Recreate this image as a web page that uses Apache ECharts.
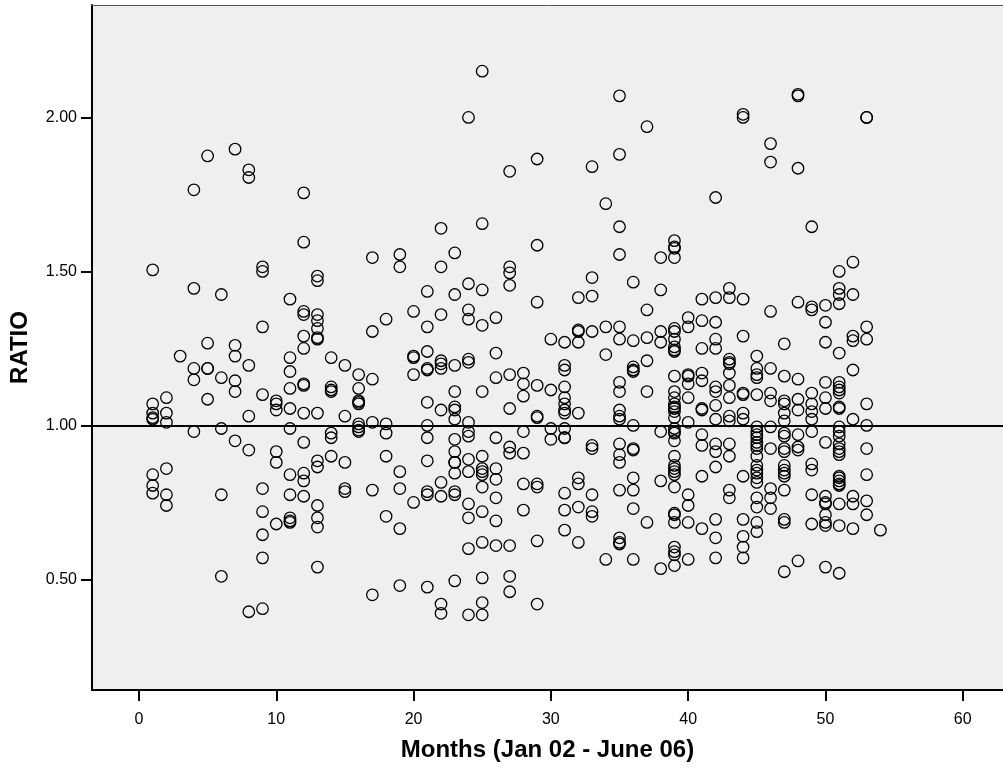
<!DOCTYPE html>
<html>
<head>
<meta charset="utf-8">
<style>html,body{margin:0;padding:0;background:#fff}#c{width:1003px;height:770px}</style>
<script src="https://cdn.jsdelivr.net/npm/echarts@6/dist/echarts.min.js"></script>
</head>
<body>
<div id="c"></div>
<script>
const xTicks = [0,10,20,30,40,50,60];
const yTicks = [0.5,1,1.5,2];
const months = [1,2,3,4,5,6,7,8,9,10,11,12,13,14,15,16,17,18,19,20,21,22,23,24,25,26,27,28,29,30,31,32,33,34,35,36,37,38,39,40,41,42,43,44,45,46,47,48,49,50,51,52,53,54];
const ratios = [
[1.505,1.07,1.04,1.025,1.02,0.84,0.805,0.78],
[1.09,1.04,1.01,0.86,0.775,0.74],
[1.225],
[1.765,1.445,1.185,1.148,0.98],
[1.875,1.267,1.185,1.185,1.085],
[1.425,1.155,0.99,0.775,0.51],
[1.897,1.26,1.225,1.145,1.11,0.95],
[1.83,1.805,1.195,1.03,0.92,0.395],
[1.515,1.50,1.32,1.10,0.795,0.72,0.645,0.57,0.405],
[1.08,1.07,1.05,0.915,0.88,0.68],
[1.41,1.22,1.175,1.12,1.055,0.99,0.84,0.775,0.70,0.685,0.69],
[1.755,1.595,1.37,1.36,1.29,1.25,1.135,1.13,1.04,0.945,0.845,0.82,0.77],
[1.485,1.47,1.36,1.34,1.315,1.285,1.28,1.04,0.885,0.865,0.74,0.70,0.67,0.54],
[1.22,1.125,1.115,1.11,0.975,0.96,0.90],
[1.195,1.03,0.88,0.795,0.785],
[1.165,1.12,1.08,1.075,1.07,1.005,0.995,0.985,0.98],
[1.545,1.305,1.15,1.01,0.79,0.45],
[1.345,1.005,0.975,0.90,0.705],
[1.555,1.515,0.85,0.795,0.665,0.48],
[1.37,1.225,1.22,1.165,0.75],
[1.435,1.32,1.24,1.185,1.18,1.075,1.0,0.96,0.885,0.785,0.775,0.475],
[1.64,1.515,1.36,1.21,1.20,1.185,1.05,0.815,0.77,0.42,0.39],
[1.56,1.425,1.195,1.11,1.06,1.05,1.02,0.955,0.915,0.88,0.88,0.845,0.785,0.775,0.495],
[2.0,1.46,1.375,1.345,1.215,1.205,1.01,0.98,0.965,0.89,0.85,0.745,0.70,0.60,0.385],
[2.15,1.655,1.44,1.325,1.11,0.90,0.86,0.85,0.84,0.80,0.72,0.62,0.505,0.425,0.385],
[1.35,1.235,1.155,0.96,0.86,0.825,0.765,0.69,0.61],
[1.825,1.515,1.495,1.455,1.165,1.055,0.93,0.91,0.61,0.51,0.46],
[1.17,1.135,1.095,0.98,0.91,0.81,0.725],
[1.865,1.585,1.40,1.13,1.03,1.025,0.81,0.80,0.625,0.42],
[1.28,1.115,0.99,0.955],
[1.27,1.195,1.18,1.125,1.09,1.07,1.05,1.04,0.99,0.96,0.96,0.78,0.725,0.66],
[1.415,1.31,1.305,1.27,1.04,0.83,0.81,0.735,0.62],
[1.84,1.48,1.42,1.305,0.935,0.925,0.775,0.72,0.705],
[1.72,1.32,1.23,0.565],
[2.07,1.88,1.645,1.555,1.32,1.28,1.14,1.11,1.05,1.03,1.02,0.94,0.905,0.88,0.79,0.635,0.62,0.615],
[1.465,1.275,1.19,1.18,1.175,1.0,0.925,0.92,0.83,0.79,0.73,0.565],
[1.97,1.375,1.285,1.21,1.11,0.685],
[1.545,1.44,1.305,1.27,0.98,0.82,0.535],
[1.60,1.58,1.575,1.545,1.315,1.305,1.28,1.255,1.245,1.24,1.16,1.11,1.09,1.07,1.06,1.055,1.045,1.025,0.99,0.98,0.975,0.95,0.90,0.87,0.86,0.85,0.84,0.80,0.715,0.71,0.685,0.605,0.59,0.58,0.545],
[1.35,1.32,1.165,1.16,1.135,1.09,1.01,0.775,0.74,0.685,0.565],
[1.41,1.34,1.25,1.17,1.145,1.055,1.05,0.97,0.935,0.835,0.665],
[1.74,1.415,1.335,1.28,1.25,1.125,1.11,1.065,1.02,0.94,0.915,0.865,0.695,0.635,0.57],
[1.445,1.415,1.215,1.205,1.20,1.17,1.13,1.09,1.03,1.015,0.94,0.90,0.79,0.765],
[2.01,2.0,1.41,1.29,1.105,1.10,1.04,1.02,0.835,0.695,0.64,0.605,0.57],
[1.225,1.185,1.165,1.155,1.10,0.995,0.98,0.97,0.96,0.945,0.935,0.925,0.90,0.87,0.855,0.845,0.83,0.815,0.765,0.735,0.685,0.655],
[1.915,1.855,1.37,1.185,1.105,1.08,0.995,0.925,0.795,0.765,0.73],
[1.265,1.16,1.08,1.07,1.04,1.015,0.975,0.965,0.925,0.915,0.87,0.855,0.845,0.835,0.79,0.695,0.685,0.525],
[2.075,2.07,1.835,1.40,1.15,1.085,1.05,0.97,0.93,0.92,0.56],
[1.645,1.385,1.375,1.105,1.07,1.045,1.02,0.98,0.875,0.855,0.775,0.68],
[1.39,1.335,1.27,1.14,1.09,1.055,0.945,0.77,0.75,0.745,0.71,0.685,0.675,0.54],
[1.50,1.445,1.425,1.395,1.235,1.14,1.125,1.115,1.105,1.06,1.055,0.995,0.98,0.965,0.94,0.925,0.915,0.905,0.835,0.83,0.82,0.81,0.805,0.745,0.675,0.52],
[1.53,1.425,1.29,1.275,1.18,1.02,0.77,0.745,0.665],
[2.0,2.0,1.32,1.28,1.07,1.0,0.925,0.84,0.755,0.71],
[0.66]
];
const refLine = 1;
const points = [];
months.forEach((m,i)=>ratios[i].forEach(r=>points.push([m,r])));

const chart = echarts.init(document.getElementById('c'),null,{renderer:'canvas'});
const fam = '"Liberation Sans", Arial, sans-serif';
chart.setOption({
  animation:false,
  backgroundColor:'#ffffff',
  grid:{left:92,right:0,top:5,bottom:80,show:true,backgroundColor:'#efefef',borderWidth:0,outerBoundsMode:'none'},
  xAxis:[{
    type:'value',min:-3.42,max:62.93,
    name:'Months (Jan 02 - June 06)',nameLocation:'middle',nameGap:48,
    nameTextStyle:{fontFamily:fam,fontWeight:'bold',fontSize:24,color:'#000'},
    axisLine:{show:true,onZero:false,lineStyle:{color:'#000',width:2}},
    axisTick:{show:true,length:11,customValues:xTicks,lineStyle:{color:'#000',width:2}},
    axisLabel:{customValues:xTicks,margin:22,fontFamily:fam,fontSize:16,color:'#000',showMinLabel:true,showMaxLabel:true},
    splitLine:{show:false}
  },{
    type:'value',position:'top',min:-3.42,max:62.93,
    axisLine:{show:true,onZero:false,lineStyle:{color:'#555',width:1}},
    axisTick:{show:false},axisLabel:{show:false},splitLine:{show:false}
  }],
  yAxis:{
    type:'value',min:0.141,max:2.365,
    name:'RATIO',nameLocation:'middle',nameGap:60,
    nameTextStyle:{fontFamily:fam,fontWeight:'bold',fontSize:24,color:'#000'},
    axisLine:{show:true,onZero:false,lineStyle:{color:'#000',width:2}},
    axisTick:{show:true,length:11,customValues:yTicks,lineStyle:{color:'#000',width:2}},
    axisLabel:{customValues:yTicks,margin:15,fontFamily:fam,fontSize:16,color:'#000',formatter:v=>Number(v).toFixed(2)},
    splitLine:{show:false}
  },
  series:[{
    type:'scatter',data:points,symbol:'circle',symbolSize:11.5,
    itemStyle:{color:'rgba(0,0,0,0)',borderColor:'#000',borderWidth:1.3,opacity:1},
    markLine:{silent:true,symbol:'none',label:{show:false},animation:false,
      lineStyle:{color:'#000',width:1.8,type:'solid'},data:[{yAxis:refLine}]}
  }]
});
</script>
</body>
</html>
